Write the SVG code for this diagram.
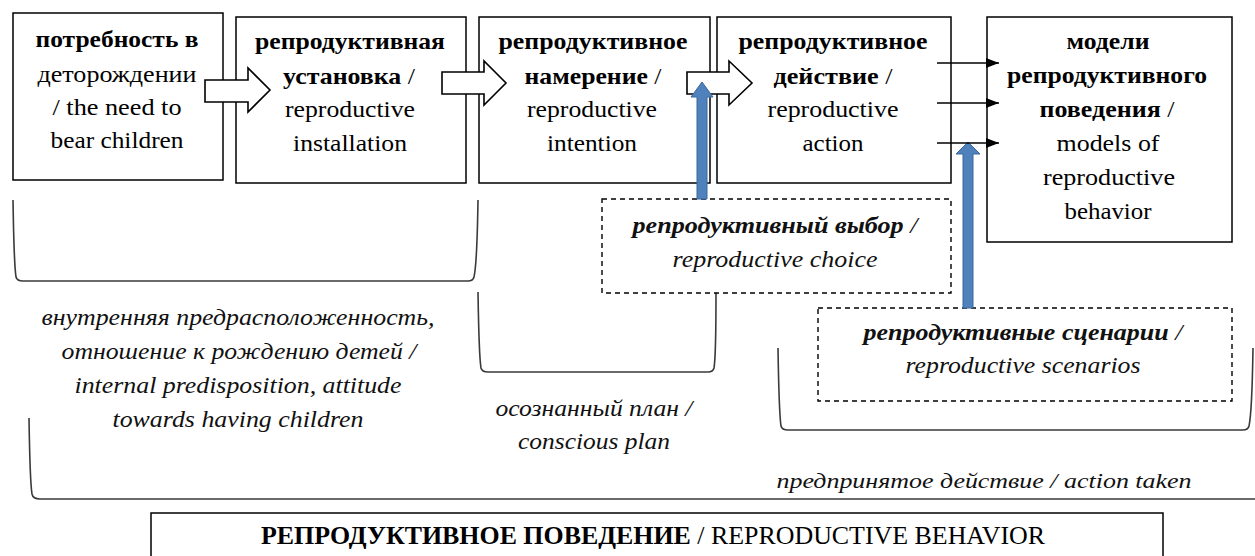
<svg xmlns="http://www.w3.org/2000/svg" width="1255" height="556" viewBox="0 0 1255 556">
<defs>
<style>
.box{fill:#fff;stroke:#000;stroke-width:1.5}
.dash{fill:#fff;stroke:#000;stroke-width:1.4;stroke-dasharray:5 4}
.t,.it{font-family:"Liberation Serif",Tinos,"Times New Roman",Times,"Noto Serif","DejaVu Serif",FreeSerif,Georgia,serif;font-size:23px;fill:#000;text-anchor:middle}
.it{font-style:italic;fill:#111}
.bd{font-weight:bold}
.hollow{fill:#fff;stroke:#000;stroke-width:1.6;stroke-linejoin:miter}
.blue{fill:#4f81bd;stroke:#3a679c;stroke-width:1}
.thin{fill:none;stroke:#000;stroke-width:1.3}
.brace{fill:none;stroke:#3a3a3a;stroke-width:1.6}
</style>
<marker id="ah" markerUnits="userSpaceOnUse" markerWidth="14" markerHeight="11" refX="13" refY="5" orient="auto">
<path d="M0,0 L13,5 L0,10 Z" fill="#000"/>
</marker>
</defs>
<rect width="1255" height="556" fill="#fff"/>

<g id="brackets">
<path class="brace" d="M13,200 Q14,264 16,277 Q17,281 23,281 H468 Q473,281 474,277 Q477,264 478,200"/>
<path class="brace" d="M478,292 Q479,356 481,368 Q482,372 488,372 H708 Q713,372 714,368 Q716,356 716,292"/>
<path class="brace" d="M778,348 Q779,412 781,426 Q782,430 788,430 H1243 Q1248,430 1249,426 Q1252,412 1253,348"/>
<path class="brace" d="M29,418 Q30,482 32,494 Q33,499 40,499 H1255"/>
</g>

<g id="n1">
<rect class="box" x="13" y="13" width="210" height="167"/>
<text class="t" x="117" y="47" textLength="163" lengthAdjust="spacingAndGlyphs"><tspan class="bd">потребность в</tspan></text>
<text class="t" x="117" y="82" textLength="159" lengthAdjust="spacingAndGlyphs">деторождении</text>
<text class="t" x="117" y="115" textLength="129" lengthAdjust="spacingAndGlyphs">/ the need to</text>
<text class="t" x="117" y="148" textLength="133" lengthAdjust="spacingAndGlyphs">bear children</text>
</g>

<g id="n2">
<rect class="box" x="236" y="17" width="230" height="166"/>
<text class="t" x="350" y="49" textLength="190" lengthAdjust="spacingAndGlyphs"><tspan class="bd">репродуктивная</tspan></text>
<text class="t" x="349" y="84" textLength="132" lengthAdjust="spacingAndGlyphs"><tspan class="bd">установка</tspan> /</text>
<text class="t" x="350" y="117" textLength="130" lengthAdjust="spacingAndGlyphs">reproductive</text>
<text class="t" x="350" y="151" textLength="114" lengthAdjust="spacingAndGlyphs">installation</text>
</g>

<g id="n3">
<rect class="box" x="479" y="17" width="231" height="166"/>
<text class="t" x="593" y="49" textLength="189" lengthAdjust="spacingAndGlyphs"><tspan class="bd">репродуктивное</tspan></text>
<text class="t" x="593" y="84" textLength="137" lengthAdjust="spacingAndGlyphs"><tspan class="bd">намерение</tspan> /</text>
<text class="t" x="592" y="117" textLength="130" lengthAdjust="spacingAndGlyphs">reproductive</text>
<text class="t" x="592" y="151" textLength="90" lengthAdjust="spacingAndGlyphs">intention</text>
</g>

<g id="n4">
<rect class="box" x="717" y="17" width="234" height="166"/>
<text class="t" x="833" y="49" textLength="189" lengthAdjust="spacingAndGlyphs"><tspan class="bd">репродуктивное</tspan></text>
<text class="t" x="833" y="84" textLength="119" lengthAdjust="spacingAndGlyphs"><tspan class="bd">действие</tspan> /</text>
<text class="t" x="833" y="117" textLength="131" lengthAdjust="spacingAndGlyphs">reproductive</text>
<text class="t" x="833" y="151" textLength="61" lengthAdjust="spacingAndGlyphs">action</text>
</g>

<g id="n5">
<rect class="box" x="987" y="17" width="245" height="225"/>
<text class="t" x="1108" y="49" textLength="83" lengthAdjust="spacingAndGlyphs"><tspan class="bd">модели</tspan></text>
<text class="t" x="1107" y="83" textLength="200" lengthAdjust="spacingAndGlyphs"><tspan class="bd">репродуктивного</tspan></text>
<text class="t" x="1107" y="117" textLength="135" lengthAdjust="spacingAndGlyphs"><tspan class="bd">поведения</tspan> /</text>
<text class="t" x="1108" y="151" textLength="103" lengthAdjust="spacingAndGlyphs">models of</text>
<text class="t" x="1109" y="185" textLength="132" lengthAdjust="spacingAndGlyphs">reproductive</text>
<text class="t" x="1108" y="219" textLength="87" lengthAdjust="spacingAndGlyphs">behavior</text>
</g>

<g id="choice">
<rect class="dash" x="602" y="199" width="349" height="94"/>
<text class="it" x="775" y="233" textLength="285" lengthAdjust="spacingAndGlyphs"><tspan class="bd">репродуктивный выбор</tspan> /</text>
<text class="it" x="775" y="267" textLength="205" lengthAdjust="spacingAndGlyphs">reproductive choice</text>
</g>

<g id="scenarios">
<rect class="dash" x="818" y="308" width="414" height="93"/>
<text class="it" x="1023" y="340" textLength="319" lengthAdjust="spacingAndGlyphs"><tspan class="bd">репродуктивные сценарии</tspan> /</text>
<text class="it" x="1023" y="373" textLength="235" lengthAdjust="spacingAndGlyphs">reproductive scenarios</text>
</g>

<g id="label-internal">
<text class="it" x="238" y="325" textLength="393" lengthAdjust="spacingAndGlyphs">внутренняя предрасположенность,</text>
<text class="it" x="239" y="359" textLength="355" lengthAdjust="spacingAndGlyphs">отношение к рождению детей /</text>
<text class="it" x="238" y="393" textLength="327" lengthAdjust="spacingAndGlyphs">internal predisposition, attitude</text>
<text class="it" x="238" y="427" textLength="251" lengthAdjust="spacingAndGlyphs">towards having children</text>
</g>

<g id="label-plan">
<text class="it" x="594" y="416" textLength="197" lengthAdjust="spacingAndGlyphs">осознанный план /</text>
<text class="it" x="594" y="449" textLength="152" lengthAdjust="spacingAndGlyphs">conscious plan</text>
</g>

<g id="label-action">
<text class="it" x="984" y="488" textLength="415" lengthAdjust="spacingAndGlyphs" style="font-size:22px">предпринятое действие / action taken</text>
</g>

<g id="bottom">
<rect class="box" x="151" y="513" width="1012" height="60"/>
<text class="t" x="653" y="544" textLength="784" lengthAdjust="spacingAndGlyphs" style="font-size:25px"><tspan class="bd">РЕПРОДУКТИВНОЕ ПОВЕДЕНИЕ</tspan> / REPRODUCTIVE BEHAVIOR</text>
</g>

<g id="connectors">
<path class="hollow" d="M205,80 H248 V68 L270,90 L248,112 V102 H205 Z"/>
<path class="hollow" d="M442,72 H484 V61 L506,83 L484,105 V94 H442 Z"/>
<path class="hollow" d="M687,72 H729 V61 L752,83 L729,105 V94 H687 Z"/>
<path class="blue" d="M697,199 V97 H691 L702,82 L713,97 H707 V199 Z"/>
<path class="blue" d="M963,308 V154 H956 L968,142 L980,154 H973 V308 Z"/>
<line class="thin" x1="937" y1="63" x2="999" y2="63" marker-end="url(#ah)"/>
<line class="thin" x1="937" y1="103" x2="999" y2="103" marker-end="url(#ah)"/>
<line class="thin" x1="937" y1="143" x2="999" y2="143" marker-end="url(#ah)"/>
</g>
</svg>
